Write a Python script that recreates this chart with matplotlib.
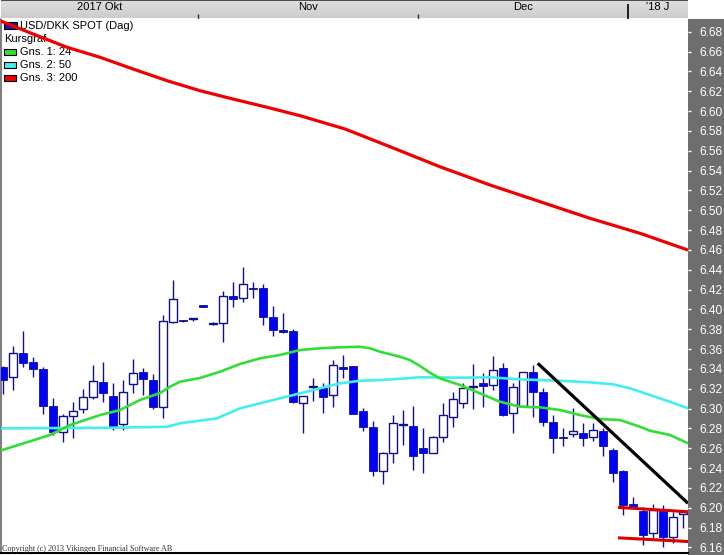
import matplotlib
matplotlib.use("Agg")
import matplotlib.pyplot as plt
import numpy as np
from matplotlib.patches import Rectangle

# ---------------- data ----------------
opens = [6.342, 6.3315, 6.3557, 6.3466, 6.3398, 6.3025, 6.2766, 6.2927, 6.2992, 6.3113,
         6.3267, 6.3126, 6.2847, 6.3247, 6.3368, 6.3287, 6.3012, 6.3875, 6.3885, 6.3898,
         6.4044, 6.3853, 6.3859, 6.4135, 6.4111, 6.4215, 6.4212, 6.392, 6.3792, 6.3782,
         6.3058, 6.3215, 6.321, 6.3133, 6.3422, 6.3429, 6.2975, 6.2811, 6.2373, 6.2548,
         6.2830, 6.2823, 6.26, 6.2556, 6.2716, 6.2917, 6.3058, 6.3215, 6.3254, 6.3237,
         6.3405, 6.2958, 6.3025, 6.3365, 6.3163, 6.2867, 6.2702, 6.2745, 6.2755, 6.2716,
         6.2776, 6.2581, 6.237, 6.2037, 6.197, 6.1748, 6.1983, 6.17, 6.1941]
highs = [6.343, 6.363, 6.3785, 6.3516, 6.3415, 6.3109, 6.2944, 6.3062, 6.3197, 6.3439,
         6.3472, 6.3254, 6.3287, 6.3499, 6.3405, 6.3348, 6.3943, 6.4296, 6.389, 6.3912,
         6.4044, 6.3875, 6.4185, 6.4273, 6.443, 6.4279, 6.4256, 6.4034, 6.396, 6.3802,
         6.3126, 6.331, 6.3254, 6.3489, 6.354, 6.343, 6.3002, 6.2877, 6.2564, 6.2934,
         6.2985, 6.3025, 6.28, 6.2723, 6.3058, 6.3169, 6.3254, 6.3446, 6.3355, 6.3529,
         6.3456, 6.326, 6.3372, 6.3439, 6.321, 6.2934, 6.28, 6.3002, 6.2851, 6.2851,
         6.28, 6.2598, 6.238, 6.2104, 6.201, 6.2037, 6.2027, 6.1959, 6.1959]
lows = [6.315, 6.3186, 6.342, 6.332, 6.2944, 6.2733, 6.2665, 6.27, 6.2958, 6.3093,
        6.3068, 6.2783, 6.2783, 6.3159, 6.3136, 6.2992, 6.2901, 6.3865, 6.3875, 6.3879,
        6.4027, 6.3842, 6.3674, 6.4027, 6.4077, 6.4111, 6.3842, 6.3731, 6.3765, 6.306,
        6.2756, 6.3078, 6.2951, 6.3018, 6.3305, 6.294, 6.2776, 6.2322, 6.2235, 6.2447,
        6.2632, 6.238, 6.2346, 6.2553, 6.2665, 6.2816, 6.3002, 6.30, 6.3018, 6.3186,
        6.2924, 6.2756, 6.302, 6.2911, 6.2823, 6.2554, 6.2622, 6.2716, 6.2622, 6.2675,
        6.2524, 6.2262, 6.1926, 6.201, 6.1623, 6.1674, 6.1606, 6.1643, 6.18]
closes = [6.329, 6.3557, 6.3456, 6.3395, 6.3028, 6.2766, 6.2924, 6.2975, 6.3119, 6.3277,
          6.3153, 6.2816, 6.3163, 6.3355, 6.3294, 6.3018, 6.3882, 6.4101, 6.388, 6.3902,
          6.4027, 6.3857, 6.4135, 6.4101, 6.4253, 6.4205, 6.3926, 6.3792, 6.3768, 6.3068,
          6.3126, 6.322, 6.3113, 6.3436, 6.3395, 6.2944, 6.2811, 6.2373, 6.2548, 6.2857,
          6.2835, 6.2524, 6.2556, 6.2716, 6.2931, 6.3093, 6.321, 6.3219, 6.3227, 6.3388,
          6.2934, 6.3214, 6.3365, 6.3169, 6.2867, 6.2706, 6.2698, 6.277, 6.2706, 6.2783,
          6.2622, 6.2346, 6.2027, 6.201, 6.1725, 6.1976, 6.17, 6.1903, 6.1945]

# moving averages (x in candle index units)
ma200_x = [-0.3, 3.0, 6.4, 9.7, 13.0, 16.4, 19.7, 23.0, 26.4, 29.7, 34.2, 38.7, 43.7,
           48.7, 53.7, 58.7, 63.7, 68.5]
ma200_y = [6.6911, 6.6777, 6.6643, 6.6542, 6.6424, 6.6306, 6.6205, 6.6121, 6.6038, 6.5953,
           6.5819, 6.5640, 6.5438, 6.5254, 6.5086, 6.4918, 6.4767, 6.4598]
ma24_x = [-0.3, 4.7, 6.7, 9.7, 11.7, 13.7, 15.7, 16.7, 17.7, 19.7, 21.7, 23.7, 25.7, 27.7,
          29.7, 31.7, 33.7, 35.7, 36.7, 37.7, 39.7, 40.7, 41.7, 42.7, 43.7, 45.7, 47.7,
          49.7, 51.7, 53.7, 55.7, 57.7, 59.7, 61.7, 63.7, 64.7, 66.7, 68.5]
ma24_y = [6.2574, 6.2733, 6.2833, 6.2934, 6.2985, 6.3086, 6.3156, 6.322, 6.327, 6.3308,
          6.3371, 6.3449, 6.3506, 6.354, 6.359, 6.3607, 6.3617, 6.3623, 6.3607, 6.3573,
          6.3522, 6.3489, 6.3429, 6.3361, 6.3304, 6.3237, 6.3153, 6.3068, 6.3018, 6.3012,
          6.2985, 6.2934, 6.2894, 6.2884, 6.2816, 6.2776, 6.2733, 6.2649]
ma50_x = [-0.3, 10.7, 16.4, 17.7, 21.4, 23.7, 25.7, 27.7, 29.7, 31.7, 33.7, 35.7, 37.7,
          39.7, 41.7, 45.7, 48.7, 51.7, 55.7, 58.7, 61.0, 62.7, 64.7, 66.7, 68.5]
ma50_y = [6.28, 6.2806, 6.2816, 6.2851, 6.2901, 6.3002, 6.3052, 6.3103, 6.3153, 6.3204,
          6.3254, 6.328, 6.3287, 6.33, 6.3315, 6.3311, 6.3315, 6.3294, 6.328, 6.3264,
          6.3244, 6.3204, 6.3136, 6.3068, 6.3002]

# drawn annotations
trend_x = [53.47, 68.5]
trend_y = [6.3456, 6.2044]
upper_x = [61.5, 68.5]
upper_y = [6.2003, 6.1959]
lower_x = [61.5, 68.5]
lower_y = [6.1696, 6.1659]

month_labels = ["2017 Okt", "Nov", "Dec", "'18 J"]
month_starts = [0, 20, 42, 63]
y_ticks = [round(6.16 + 0.02 * k, 2) for k in range(27)]

legend_items = [("Gns. 1: 24", "#33dd33"), ("Gns. 2: 50", "#44eeee"), ("Gns. 3: 200", "#ee0000")]

# ---------------- figure ----------------
W, H = 724, 555
fig = plt.figure(figsize=(W / 100, H / 100), dpi=100)
fig.patch.set_facecolor("white")
FONT = ["Liberation Sans", "DejaVu Sans"]

def fx(px):
    return px / W

def fy(py):  # py measured from top
    return 1 - py / H

# right grey panel (behind everything)
fig.patches.append(Rectangle((fx(688), 0), fx(36), fy(18.5), transform=fig.transFigure,
                             facecolor="#6e6e6e", edgecolor="none", zorder=-5))

ax = fig.add_axes([fx(1), fy(553), fx(687), (553 - 19) / H])
ax.set_zorder(1)
ax.set_facecolor("white")
n = len(opens)
idx = np.arange(n)
x_lo, x_hi = -0.2, 68.5
ax.set_xlim(x_lo, x_hi)
ax.set_ylim(6.1543, 6.6928)

NAVY = "#101088"
BLUE = "#0000ff"
o = np.array(opens); c = np.array(closes); h = np.array(highs); l = np.array(lows)
ax.vlines(idx, l, h, color=NAVY, lw=1.0, zorder=3)
up = c >= o
bw = 0.78
body_lo = np.minimum(o, c)
body_h = np.maximum(np.abs(c - o), 0.0012)
ax.bar(idx[~up], body_h[~up], bottom=body_lo[~up], width=bw, color=BLUE,
       edgecolor=NAVY, linewidth=0.6, zorder=4)
ax.bar(idx[up], body_h[up], bottom=body_lo[up], width=bw, color="white",
       edgecolor=NAVY, linewidth=1.0, zorder=4)

ax.plot(ma50_x, ma50_y, color="#44eeee", lw=1.9, zorder=5, solid_capstyle="butt")
ax.plot(ma24_x, ma24_y, color="#33dd33", lw=1.9, zorder=5, solid_capstyle="butt")
ax.plot(ma200_x, ma200_y, color="#ee0000", lw=2.3, zorder=5, solid_capstyle="butt")
ax.plot(trend_x, trend_y, color="black", lw=2.3, zorder=6, solid_capstyle="butt")
ax.plot(upper_x, upper_y, color="#dd0000", lw=2.2, zorder=6, solid_capstyle="butt")
ax.plot(lower_x, lower_y, color="#dd0000", lw=2.2, zorder=6, solid_capstyle="butt")

ax.set_xticks([])
ax.yaxis.tick_right()
ax.set_yticks(y_ticks)
ax.set_yticklabels([f"{v:.2f}" for v in y_ticks], family=FONT, fontsize=8.6, color="white")
ax.tick_params(axis="y", direction="out", length=2.5, width=1, color="white", pad=6)
for s in ["top", "right"]:
    ax.spines[s].set_visible(False)
ax.spines["left"].set_color("#808080")
ax.spines["left"].set_linewidth(1.5)
ax.spines["bottom"].set_color("black")
ax.spines["bottom"].set_linewidth(1.5)

# legend (drawn under the lines)
ax.add_patch(Rectangle((fx(4), fy(28.5)), fx(13), 6.5 / H, transform=fig.transFigure,
                       facecolor="#1c1c9c", edgecolor="black", lw=0.8, zorder=1, clip_on=False))
ax.text(fx(20), fy(26), "USD/DKK SPOT (Dag)", transform=fig.transFigure, family=FONT,
        fontsize=8, va="center", ha="left", color="black", zorder=1)
ax.text(fx(4), fy(39), "Kursgraf", transform=fig.transFigure, family=FONT,
        fontsize=8, va="center", ha="left", color="black", zorder=1)
for k, (lab, col) in enumerate(legend_items):
    yc = 52 + k * 12.8
    ax.add_patch(Rectangle((fx(4), fy(yc + 3)), fx(12), 6 / H, transform=fig.transFigure,
                           facecolor=col, edgecolor="black", lw=0.8, zorder=1, clip_on=False))
    ax.text(fx(20), fy(yc), lab, transform=fig.transFigure, family=FONT,
            fontsize=8, va="center", ha="left", color="black", zorder=1)

ax.text(fx(2), fy(551), "Copyright (c) 2013 Vikingen Financial Software AB",
        transform=fig.transFigure, family=["Liberation Serif", "DejaVu Serif"],
        fontsize=5.9, color="#333333", va="baseline", ha="left", zorder=7)

# top date bar
tax = fig.add_axes([fx(1), fy(18.5), fx(687), 18.5 / H])
tax.set_zorder(2)
tax.set_xlim(x_lo, x_hi)
tax.set_ylim(0, 1)
grad = np.linspace(0.80, 0.88, 32)[:, None]
tax.imshow(grad, cmap="gray", vmin=0, vmax=1, extent=[x_lo, x_hi, 0, 1], aspect="auto",
           origin="lower", zorder=0)
tax.axhline(1, color="#505050", lw=1.5)
for s in tax.spines.values():
    s.set_visible(False)
tax.set_xticks([]); tax.set_yticks([])
bounds = [x_lo] + [m - 0.5 for m in month_starts[1:]] + [x_hi]
for k, lab in enumerate(month_labels):
    mid = (bounds[k] + bounds[k + 1]) / 2
    tax.text(mid, 0.6, lab, family=FONT, fontsize=8, ha="center", va="center", color="black")
for k, b in enumerate(bounds[1:-1]):
    if month_labels[k + 1].startswith("'"):
        tax.vlines(b, 0.0, 0.78, color="black", lw=1.2)
    else:
        tax.vlines(b, 0.0, 0.22, color="#333333", lw=1.0)

fig.savefig("out.png", dpi=100, facecolor="white")
